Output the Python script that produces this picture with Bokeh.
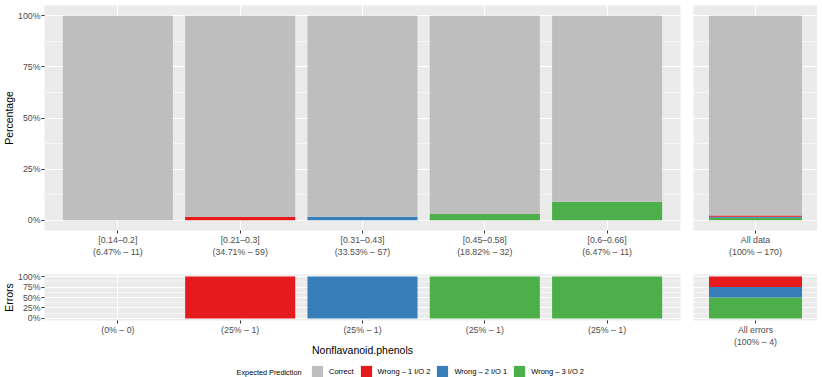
from bokeh.plotting import figure
from bokeh.models import (Range1d, FixedTicker, PrintfTickFormatter,
                          Legend, LegendItem, Label, ColumnDataSource)
from bokeh.layouts import column, row
from bokeh.embed import file_html
from bokeh.resources import INLINE

# ---------------- data ----------------
bins = ["[0.14–0.2]", "[0.21–0.3]", "[0.31–0.43]", "[0.45–0.58]", "[0.6–0.66]"]
bin_share = ["6.47%", "34.71%", "33.53%", "18.82%", "6.47%"]
bin_count = [11, 59, 57, 32, 11]
correct = [11, 58, 56, 31, 10]
wrong_1 = [0, 1, 0, 0, 0]
wrong_2 = [0, 0, 1, 0, 0]
wrong_3 = [0, 0, 0, 1, 1]
err_share = ["0%", "25%", "25%", "25%", "25%"]
err_count = [0, 1, 1, 1, 1]
all_label = "All data"
all_share = "100%"
all_err_label = "All errors"
all_err_share = "100%"
series = ["Correct", "Wrong – 1 I/O 2", "Wrong – 2 I/O 1", "Wrong – 3 I/O 2"]
colors = ["#BEBEBE", "#E41A1C", "#377EB8", "#4DAF4A"]
pct_ticks = [0, 25, 50, 75, 100]
x_title = "Nonflavanoid.phenols"
y_title_top = "Percentage"
y_title_err = "Errors"
legend_title = "Expected Prediction"

FONT = "Liberation Sans"
keys = ["w3", "w2", "w1", "ok"]           # stacking order bottom -> top
key_colors = [colors[3], colors[2], colors[1], colors[0]]


def pct(part, whole):
    return [100.0 * p / w if w else 0.0 for p, w in zip(part, whole)]


xs = list(range(1, len(bins) + 1))
tot = sum(bin_count)
tot_err = sum(err_count)

top_main_src = ColumnDataSource(dict(
    x=xs,
    w3=pct(wrong_3, bin_count), w2=pct(wrong_2, bin_count),
    w1=pct(wrong_1, bin_count), ok=pct(correct, bin_count)))
top_all_src = ColumnDataSource(dict(
    x=[1],
    w3=[100.0 * sum(wrong_3) / tot], w2=[100.0 * sum(wrong_2) / tot],
    w1=[100.0 * sum(wrong_1) / tot], ok=[100.0 * sum(correct) / tot]))
err_main_src = ColumnDataSource(dict(
    x=xs,
    w3=pct(wrong_3, err_count), w2=pct(wrong_2, err_count),
    w1=pct(wrong_1, err_count), ok=[0.0] * len(bins)))
err_all_src = ColumnDataSource(dict(
    x=[1],
    w3=[100.0 * sum(wrong_3) / tot_err], w2=[100.0 * sum(wrong_2) / tot_err],
    w1=[100.0 * sum(wrong_1) / tot_err], ok=[0.0]))

top_labels = {i: f"{b}\n({s} – {n})" for i, b, s, n in zip(xs, bins, bin_share, bin_count)}
err_labels = {i: f"({s} – {n})" for i, s, n in zip(xs, err_share, err_count)}
all_labels = {1: f"{all_label}\n({all_share} – {tot})"}
all_err_labels = {1: f"{all_err_label}\n({all_err_share} – {tot_err})"}

minor = [(a + b) / 2 for a, b in zip(pct_ticks[:-1], pct_ticks[1:])]


def make_fig(n, labels, fw, fh, bl, br, bt, bb, show_y, ytitle=None):
    p = figure(x_range=Range1d(0.4, n + 0.6),
               y_range=Range1d(-5, 105),
               frame_width=fw, frame_height=fh,
               min_border_left=bl, min_border_right=br,
               min_border_top=bt, min_border_bottom=bb,
               toolbar_location=None, output_backend="svg")
    p.background_fill_color = "#EBEBEB"
    p.border_fill_color = "white"
    p.outline_line_color = None
    p.xgrid.grid_line_color = "white"
    p.xgrid.grid_line_width = 1.07
    p.ygrid.grid_line_color = "white"
    p.ygrid.grid_line_width = 1.07
    p.ygrid.minor_grid_line_color = "white"
    p.ygrid.minor_grid_line_width = 0.53
    p.xaxis.ticker = FixedTicker(ticks=list(range(1, n + 1)), minor_ticks=[])
    p.xaxis.major_label_overrides = labels
    p.yaxis.ticker = FixedTicker(ticks=pct_ticks, minor_ticks=minor)
    p.yaxis.formatter = PrintfTickFormatter(format="%d%%")
    for ax in (p.xaxis[0], p.yaxis[0]):
        ax.axis_line_color = None
        ax.major_tick_line_color = "#333333"
        ax.major_tick_out = 3
        ax.major_tick_in = 0
        ax.minor_tick_line_color = None
        ax.minor_tick_out = 0
        ax.minor_tick_in = 0
        ax.major_label_text_color = "#4D4D4D"
        ax.major_label_text_font_size = "8.8px"
        ax.major_label_text_font = FONT
        ax.major_label_standoff = 1
        ax.axis_label_text_font_size = "10.5px"
        ax.axis_label_text_font = FONT
        ax.axis_label_text_font_style = "normal"
        ax.axis_label_text_color = "black"
        ax.axis_label_standoff = 3
    p.xaxis.axis_label_standoff = 6
    p.yaxis.axis_label_standoff = 0
    if show_y:
        p.yaxis.axis_label = ytitle
    else:
        p.yaxis.visible = False
    return p


# layout constants (page pixels)
L, R1, L2 = 44, 6, 7
W1, W2 = 636, 124
T1, H1, B1 = 5, 225, 28
T2, H2, B2 = 15, 46, 36
LEG_H = 21

top_main = make_fig(len(bins), top_labels, W1, H1, L, R1, T1, B1, True, y_title_top)
top_all = make_fig(1, all_labels, W2, H1, L2, 0, T1, B1, False)
err_main = make_fig(len(bins), err_labels, W1, H2, L, R1, T2, B2, True, y_title_err)
err_all = make_fig(1, all_err_labels, W2, H2, L2, 0, T2, B2, False)
err_main.xaxis.axis_label = x_title

for p, src in ((top_main, top_main_src), (top_all, top_all_src),
               (err_main, err_main_src), (err_all, err_all_src)):
    p.vbar_stack(keys, x="x", width=0.9, source=src, color=key_colors,
                 line_color=None)

# legend strip
lf = figure(width=L + W1 + R1 + L2 + W2, height=LEG_H,
            x_range=Range1d(0, 1), y_range=Range1d(0, 1),
            toolbar_location=None, output_backend="svg",
            x_axis_location=None, y_axis_location=None, min_border=0)
lf.outline_line_color = None
lf.grid.visible = False
items = []
for s, c in zip(series, colors):
    r = lf.vbar(x=[0.5], top=[1], width=0.1, fill_color=c, line_color=None,
                visible=False)
    items.append(LegendItem(label=s, renderers=[r]))
leg = Legend(items=items, orientation="horizontal", location=(310, 1),
             glyph_width=14, glyph_height=14, label_standoff=5, spacing=5,
             padding=0, margin=0, border_line_color=None,
             background_fill_alpha=0, label_text_font_size="7.5px",
             label_text_font=FONT, label_text_color="black",
             label_height=14, label_width=10, click_policy="none")
lf.add_layout(leg)
lf.add_layout(Label(x=301, y=7.5, x_units="screen", y_units="screen",
                    text=legend_title, text_align="right",
                    text_baseline="middle", text_font_size="7.3px",
                    text_font=FONT, text_color="black"))

layout = column(row(top_main, top_all), row(err_main, err_all), lf)

open("out.html", "w").write(file_html(layout, INLINE))
